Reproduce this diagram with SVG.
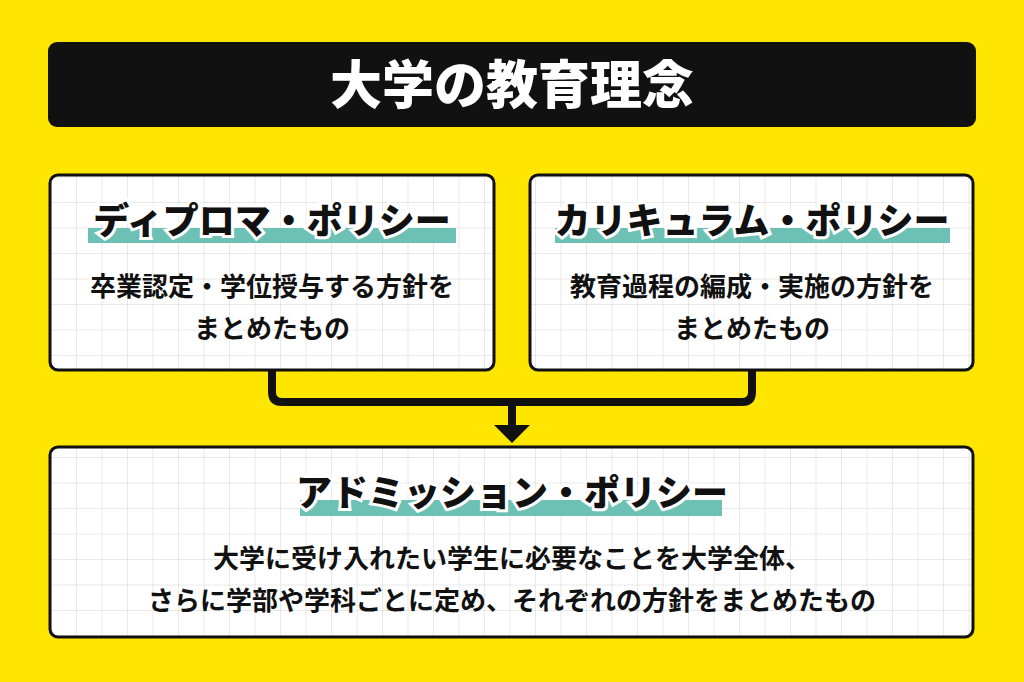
<svg xmlns="http://www.w3.org/2000/svg" width="1024" height="682" viewBox="0 0 1024 682">
<defs>
<pattern id="grid" width="25.5" height="25.5" patternUnits="userSpaceOnUse" x="76" y="202">
<path d="M0 0H25.5M0 0V25.5" fill="none" stroke="#d4d4d4" stroke-width="1"/>
</pattern>
</defs>
<style>
.box{fill:url(#grid);stroke:#111;stroke-width:3}
.bg{fill:#fff}
.h{font-family:"Noto Sans CJK JP",sans-serif;font-weight:900;font-size:36px;fill:#111;stroke:#fff;stroke-width:6;paint-order:stroke;text-anchor:middle}
.t{font-family:"Noto Sans CJK JP",sans-serif;font-weight:700;font-size:26px;fill:#111;text-anchor:middle}
.bar{fill:#6cc0b4}
</style>
<rect width="1024" height="682" fill="#ffe600"/>
<g id="title">
<rect x="48" y="42" width="928" height="85" rx="9" fill="#111"/>
<text x="512" y="104" font-family="Noto Sans CJK JP,sans-serif" font-weight="900" font-size="52" fill="#fff" text-anchor="middle">大学の教育理念</text>
</g>
<g id="connectors" fill="none" stroke="#111" stroke-width="8">
<path d="M272 370V392Q272 402 282 402H742Q752 402 752 392V370"/>
<path d="M512 402V428"/>
<path d="M494 425H530L512 443Z" fill="#111" stroke="none"/>
</g>
<g id="diploma">
<rect class="bg" x="50" y="175" width="444" height="195" rx="8"/>
<rect class="box" x="50" y="175" width="444" height="195" rx="8"/>
<rect class="bar" x="88" y="228" width="368" height="15"/>
<text class="h" x="272" y="234">ディプロマ・ポリシー</text>
<text class="t" x="272" y="296">卒業認定・学位授与する方針を</text>
<text class="t" x="272" y="338">まとめたもの</text>
</g>
<g id="curriculum">
<rect class="bg" x="530" y="175" width="443" height="195" rx="8"/>
<rect class="box" x="530" y="175" width="443" height="195" rx="8"/>
<rect class="bar" x="555" y="228" width="395" height="15"/>
<text class="h" x="752" y="234">カリキュラム・ポリシー</text>
<text class="t" x="752" y="296">教育過程の編成・実施の方針を</text>
<text class="t" x="752" y="338">まとめたもの</text>
</g>
<g id="admission">
<rect class="bg" x="50" y="447" width="923" height="190" rx="8"/>
<rect class="box" x="50" y="447" width="923" height="190" rx="8"/>
<rect class="bar" x="300" y="500" width="422" height="16"/>
<text class="h" x="512" y="506">アドミッション・ポリシー</text>
<text class="t" x="512" y="568">大学に受け入れたい学生に必要なことを大学全体、</text>
<text class="t" x="512" y="610">さらに学部や学科ごとに定め、それぞれの方針をまとめたもの</text>
</g>
</svg>
